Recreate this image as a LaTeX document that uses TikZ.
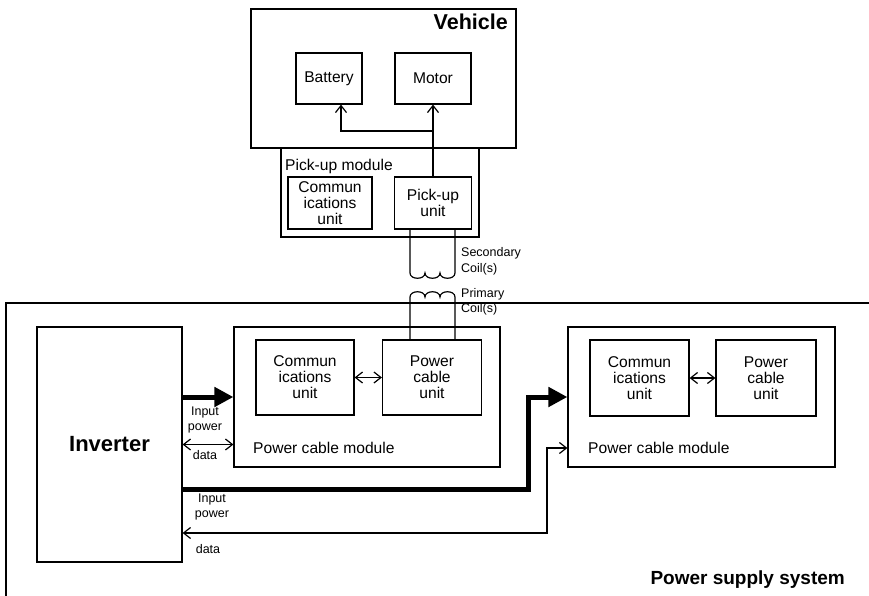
\documentclass[tikz,border=0pt]{standalone}
\usepackage{fontspec}
\setmainfont{Liberation Sans}
\usetikzlibrary{arrows.meta}
\begin{document}
\begin{tikzpicture}[x=1pt,y=-1pt,
  box/.style={draw, line width=1.2pt, inner sep=0pt, align=center,
    font=\fontsize{15.6}{16}\selectfont},
  txt/.style={inner sep=0pt, font=\fontsize{15.6}{16}\selectfont},
  small/.style={inner sep=0pt, align=center, font=\fontsize{12.5}{14.5}\selectfont},
  smallL/.style={inner sep=0pt, align=left, anchor=west, font=\fontsize{12.5}{15.5}\selectfont},
  conn/.style={line width=1.2pt},
  barb/.style={-{Straight Barb[length=7pt,width=11pt]}},
  dbarb/.style={{Straight Barb[length=7pt,width=11pt]}-{Straight Barb[length=7pt,width=11pt]}},
  power/.style={line width=5pt, -{Triangle[length=19pt,width=19pt]}},
]
\useasboundingbox (0,0) rectangle (869,596);

% Vehicle
\node[box, minimum width=265pt, minimum height=139pt] (veh) at (383.5,78.5) {};
\node[inner sep=0pt, anchor=east, font=\fontsize{21.5}{24}\selectfont\bfseries] (vehT) at (508,22) {Vehicle};
\node[box, minimum width=66pt, minimum height=51pt] (bat) at (329,78.5) {Battery};
\node[box, minimum width=76pt, minimum height=51pt] (mot) at (433,78.5) {Motor};

% Pick-up module
\node[box, minimum width=198pt, minimum height=89pt] (pum) at (380,192.5) {};
\node[txt, anchor=west] (pumT) at (285,166) {Pick-up module};
\node[box, minimum width=84pt, minimum height=52pt] (cu0) at (330,203) {Commun\\ications\\unit};
\node[box, minimum width=77pt, minimum height=52pt] (pu) at (433,203) {Pick-up\\unit};

\draw[conn, barb] (pu.north) -- (mot.south);
\coordinate (bj) at (433,131);
\draw[conn, barb] (bj) -| ([xshift=12pt]bat.south);

% Coils
\draw[conn] ([xshift=-23pt]pu.south) -- (410,273)
  .. controls (410,280) and (425,280) .. (425,273)
  .. controls (425,280) and (440,280) .. (440,273)
  .. controls (440,280) and (455,280) .. (455,273)
  -- ([xshift=22pt]pu.south);
\node[smallL] (secL) at (461,261.5) {Secondary\\Coil(s)};

% Power supply system frame
\draw[conn] (869,303) -- (6,303) -- (6,596);
\node[inner sep=0pt, anchor=east, font=\fontsize{19}{22}\selectfont\bfseries] (pssT) at (845,580) {Power supply system};

% Inverter
\node[box, minimum width=145pt, minimum height=235pt, font=\fontsize{22}{24}\selectfont\bfseries] (inv) at (109.5,444.5) {Inverter};

% Module 1
\node[box, minimum width=266pt, minimum height=140pt] (m1) at (367,397) {};
\node[box, minimum width=98pt, minimum height=75pt] (c1) at (305,377.5) {Commun\\ications\\unit};
\node[box, minimum width=99pt, minimum height=75pt] (p1) at (432,377.5) {Power\\cable\\unit};
\node[txt, anchor=west] (m1T) at (253,448) {Power cable module};
\draw[conn, dbarb] (c1.east) -- (p1.west);

% Primary coil
\draw[conn] ([xshift=-22pt]p1.north) -- (410,297)
  .. controls (410,290) and (425,290) .. (425,297)
  .. controls (425,290) and (440,290) .. (440,297)
  .. controls (440,290) and (455,290) .. (455,297)
  -- ([xshift=23pt]p1.north);
\node[smallL] (priL) at (461,302) {Primary\\Coil(s)};

% Module 2
\node[box, minimum width=267pt, minimum height=140pt] (m2) at (701.5,397) {};
\node[box, minimum width=99pt, minimum height=76pt] (c2) at (639.5,378) {Commun\\ications\\unit};
\node[box, minimum width=100pt, minimum height=76pt] (p2) at (766,378) {Power\\cable\\unit};
\node[txt, anchor=west] (m2T) at (588,448) {Power cable module};
\draw[conn, dbarb] (c2.east) -- (p2.west);

% Inverter -> module 1
\draw[power] (inv.east |- m1.west) -- (m1.west);
\draw[conn, dbarb] (inv.east) -- (inv.east -| m1.west);
\node[small] (ip1) at (205,420) {Input\\power};
\node[small] (d1) at (205,455.5) {data};

% Inverter -> module 2
\coordinate (pw2) at (528,489);
\draw[power] (inv.east |- pw2) -- (pw2) -- (528,397) -- (m2.west);
\coordinate (dt2) at (547,533);
\draw[conn, dbarb] (inv.east |- dt2) -- (dt2) -- (547,448) -- (m2.west |- 0,448);
\node[small] (ip2) at (212,507) {Input\\power};
\node[small] (d2) at (208,549) {data};
\end{tikzpicture}
\end{document}
